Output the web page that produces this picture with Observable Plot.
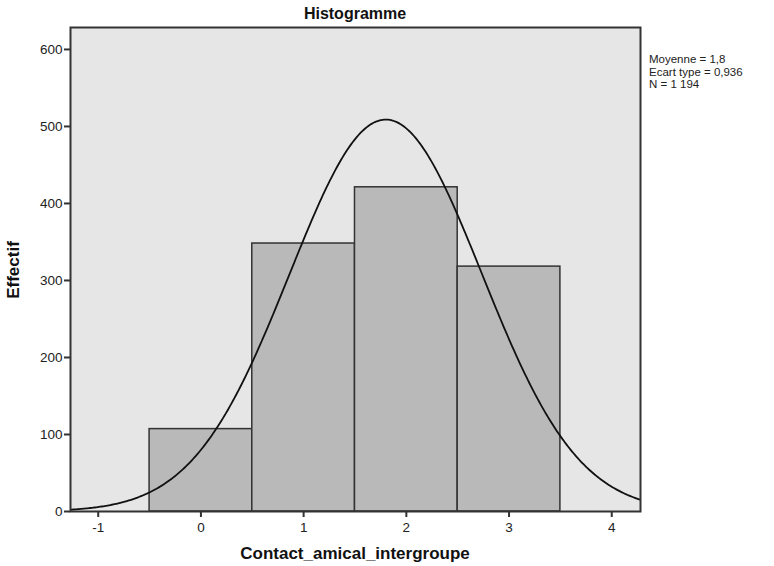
<!DOCTYPE html>
<html><head><meta charset="utf-8">
<script src="https://cdn.jsdelivr.net/npm/d3@7"></script>
<script src="https://cdn.jsdelivr.net/npm/@observablehq/plot@0.6"></script>
<style>
body{margin:0;background:#fff;font-family:Arial,"Liberation Sans",sans-serif;}
#chart{position:relative;width:774px;height:566px;}
</style></head>
<body><div id="chart"></div>
<script>
const categories = [0, 1, 2, 3];
const counts = [107, 348, 421, 318];
const stats = {mean: 1.8, sd: 0.936, n: 1194};
const statLines = ["Moyenne = 1,8", "Ecart type = 0,936", "N = 1 194"];
const xTicks = [-1, 0, 1, 2, 3, 4];
const yTicks = [0, 100, 200, 300, 400, 500, 600];
const title = "Histogramme";
const xLabel = "Contact_amical_intergroupe";
const yLabel = "Effectif";

const bars = categories.map((c, i) => ({x1: c - 0.5, x2: c + 0.5, y: counts[i]}));
const xDomain = [-1.27, 4.28];
const curve = d3.range(0, 401).map(i => {
  const x = xDomain[0] + (xDomain[1] - xDomain[0]) * i / 400;
  const z = (x - stats.mean) / stats.sd;
  return {x, y: stats.n * 1 * Math.exp(-0.5 * z * z) / (stats.sd * Math.sqrt(2 * Math.PI))};
});
const fmt = d => String(d);

const plot = Plot.plot({
  width: 774, height: 566,
  marginLeft: 70, marginRight: 134, marginTop: 27, marginBottom: 55,
  style: {fontFamily: "Arial, 'Liberation Sans', sans-serif", fontSize: "13px", color: "#222", background: "#fff"},
  x: {domain: xDomain, label: null},
  y: {domain: [0, 628.5], label: null},
  marks: [
    Plot.frame({fill: "#e6e6e6"}),
    Plot.rectY(bars, {x1: "x1", x2: "x2", y: "y", fill: "#b9b9b9", stroke: "#333", strokeWidth: 1.5}),
    Plot.line(curve, {x: "x", y: "y", stroke: "#111", strokeWidth: 1.8, clip: true}),
    Plot.frame({stroke: "#333", strokeWidth: 2}),
    Plot.axisX({ticks: xTicks, tickFormat: fmt, tickSize: 6, tickPadding: 5, stroke: "#333", strokeWidth: 2, fontSize: 13.5}),
    Plot.axisY({ticks: yTicks, tickFormat: fmt, tickSize: 6, tickPadding: 2, stroke: "#333", strokeWidth: 2, fontSize: 13.5})
  ]
});
document.getElementById("chart").appendChild(plot);

const svg = d3.select(plot);
svg.append("text").attr("x", 355).attr("y", 19).attr("text-anchor", "middle")
  .attr("font-weight", "bold").attr("font-size", 16).attr("fill", "#111").text(title);
svg.append("text").attr("x", 355).attr("y", 559).attr("text-anchor", "middle")
  .attr("font-weight", "bold").attr("font-size", 17).attr("fill", "#111").text(xLabel);
svg.append("text").attr("transform", "translate(19,270) rotate(-90)").attr("text-anchor", "middle")
  .attr("font-weight", "bold").attr("font-size", 17).attr("fill", "#111").text(yLabel);
statLines.forEach((s, i) => {
  svg.append("text").attr("x", 649).attr("y", 63 + i * 12.5).attr("text-anchor", "start")
    .attr("font-size", 11.5).attr("fill", "#222").text(s);
});
</script></body></html>
